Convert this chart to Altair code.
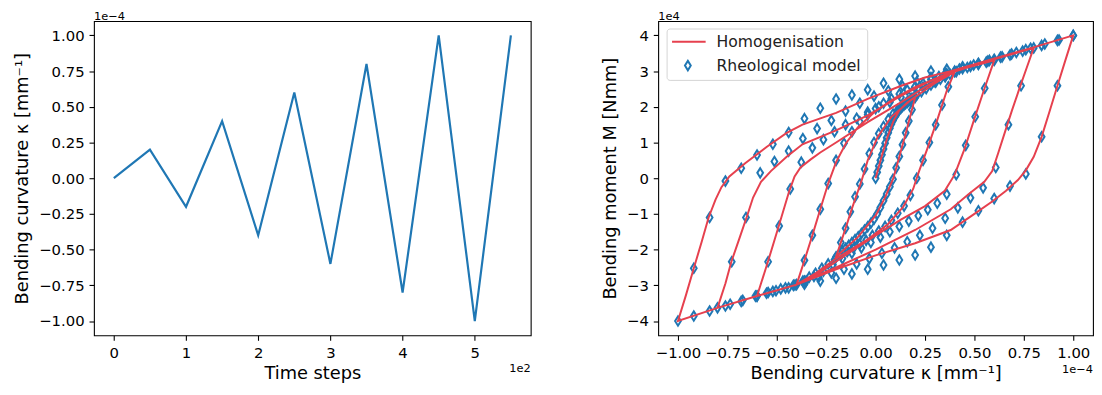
import altair as alt
import pandas as pd

FONT = "DejaVu Sans"
BLUE = "#1f77b4"
RED = "#e6404e"

# ---------------- left panel: loading protocol ----------------
time_steps = [0, 50, 100, 150, 200, 250, 300, 350, 400, 450, 500, 550]
curvature = [0.0, 0.2, -0.2, 0.4, -0.4, 0.6, -0.6, 0.8, -0.8, 1.0, -1.0, 1.0]  # x 1e-4 mm^-1

left_ticks_x = [0, 100, 200, 300, 400, 500]
left_ticks_y = [-1.0, -0.75, -0.5, -0.25, 0.0, 0.25, 0.5, 0.75, 1.0]

# ---------------- right panel: homogenisation (red line) branches ----------------
# curvature in 1e-4 mm^-1, moment in 1e4 Nmm
hom_x_0 = [0.0, 0.03, 0.06, 0.09, 0.12, 0.16, 0.2]
hom_m_0 = [0.0, 0.6, 1.15, 1.6, 1.9, 2.12, 2.26]
hom_x_1 = [0.2, 0.15, 0.09, 0.047, 0.0, -0.09, -0.2]
hom_m_1 = [2.26, 1.2, 0.0, -0.55, -1.05, -1.65, -2.2]
hom_x_2 = [-0.2, -0.15, -0.12, -0.07, -0.04, 0.01, 0.08, 0.18, 0.3, 0.4]
hom_m_2 = [-2.2, -1.37, -0.85, -0.05, 0.5, 1.15, 1.72, 2.2, 2.66, 2.98]
hom_x_3 = [0.4, 0.36, 0.31, 0.26, 0.22, 0.19, 0.14, 0.06, -0.05, -0.2, -0.3, -0.4]
hom_m_3 = [2.98, 2.45, 1.6, 0.8, 0.2, -0.3, -0.8, -1.3, -1.75, -2.25, -2.65, -2.98]
hom_x_4 = [-0.4, -0.36, -0.32, -0.28, -0.24, -0.2, -0.15, -0.09, 0.0, 0.1, 0.2, 0.38, 0.6]
hom_m_4 = [-2.98, -2.3, -1.6, -0.87, -0.15, 0.45, 0.98, 1.42, 1.88, 2.25, 2.55, 2.97, 3.3]
hom_x_5 = [0.6, 0.55, 0.5, 0.45, 0.4, 0.35, 0.25, 0.13, 0.0, -0.15, -0.3, -0.4, -0.5, -0.6]
hom_m_5 = [3.3, 2.5, 1.67, 0.82, 0.1, -0.35, -0.78, -1.15, -1.6, -2.15, -2.7, -2.98, -3.14, -3.3]
hom_x_6 = [-0.6, -0.545, -0.49, -0.437, -0.41, -0.38, -0.33, -0.28, -0.2, -0.04, 0.13, 0.25, 0.38, 0.58, 0.8]
hom_m_6 = [-3.3, -2.34, -1.34, -0.36, 0.05, 0.3, 0.52, 0.72, 1.0, 1.57, 2.13, 2.55, 2.95, 3.3, 3.65]
hom_x_7 = [0.8, 0.765, 0.73, 0.69, 0.66, 0.62, 0.59, 0.55, 0.47, 0.38, 0.2, 0.0, -0.2, -0.4, -0.6, -0.8]
hom_m_7 = [3.65, 3.1, 2.55, 1.9, 1.39, 0.7, 0.2, -0.1, -0.45, -0.87, -1.45, -2.0, -2.5, -2.98, -3.3, -3.63]
hom_x_8 = [-0.8, -0.76, -0.73, -0.69, -0.65, -0.62, -0.58, -0.53, -0.45, -0.37, -0.2, -0.04, 0.13, 0.25, 0.38, 0.58, 0.79, 1.0]
hom_m_8 = [-3.63, -2.95, -2.34, -1.7, -1.05, -0.54, -0.1, 0.2, 0.6, 0.95, 1.34, 1.76, 2.31, 2.65, 2.95, 3.3, 3.65, 4.0]
hom_x_9 = [1.0, 0.96, 0.92, 0.88, 0.84, 0.8, 0.76, 0.72, 0.66, 0.59, 0.5, 0.38, 0.2, 0.0, -0.2, -0.4, -0.6, -0.8, -1.0]
hom_m_9 = [4.0, 3.3, 2.59, 1.87, 1.16, 0.6, 0.22, -0.05, -0.35, -0.65, -1.0, -1.45, -1.82, -2.16, -2.55, -2.98, -3.3, -3.63, -4.0]
hom_x_10 = [-1.0, -0.96, -0.92, -0.88, -0.845, -0.81, -0.78, -0.74, -0.66, -0.55, -0.45, -0.37, -0.2, -0.04, 0.13, 0.25, 0.38, 0.58, 0.79, 1.0]
hom_m_10 = [-4.0, -3.28, -2.52, -1.78, -1.1, -0.6, -0.25, 0.05, 0.42, 0.88, 1.27, 1.5, 1.83, 2.22, 2.59, 2.82, 3.0, 3.32, 3.65, 4.0]

# ---------------- right panel: rheological model (blue diamonds) ----------------
rheo_x_0 = [0.0, 0.008, 0.016, 0.024, 0.032, 0.04, 0.048, 0.056, 0.064, 0.072, 0.08, 0.088, 0.096,
            0.104, 0.112, 0.12, 0.128, 0.136, 0.144, 0.152, 0.16, 0.168, 0.176, 0.184, 0.192, 0.2]
rheo_m_0 = [0.0, 0.17, 0.34, 0.5, 0.66, 0.82, 0.98, 1.13, 1.27, 1.4, 1.52, 1.62, 1.71,
            1.78, 1.85, 1.91, 1.96, 2.01, 2.05, 2.09, 2.13, 2.16, 2.19, 2.22, 2.24, 2.26]
rheo_x_1 = [0.184, 0.168, 0.152, 0.136, 0.12, 0.104, 0.088, 0.072, 0.056, 0.04, 0.024, 0.008, -0.008,
            -0.024, -0.04, -0.056, -0.072, -0.088, -0.104, -0.12, -0.136, -0.152, -0.168, -0.184, -0.2]
rheo_m_1 = [1.92, 1.6, 1.27, 0.94, 0.61, 0.29, -0.03, -0.24, -0.44, -0.63, -0.82, -1.0, -1.15,
            -1.26, -1.36, -1.45, -1.55, -1.64, -1.72, -1.8, -1.88, -1.96, -2.04, -2.12, -2.2]
rheo_x_2 = [-0.176, -0.152, -0.128, -0.104, -0.08, -0.056, -0.032, -0.008, 0.016, 0.04, 0.064, 0.088, 0.112,
            0.136, 0.16, 0.184, 0.208, 0.232, 0.256, 0.28, 0.304, 0.328, 0.352, 0.376, 0.4]
rheo_m_2 = [-1.8, -1.4, -0.94, -0.52, -0.16, 0.26, 0.69, 1.0, 1.25, 1.45, 1.65, 1.8, 1.92,
            2.03, 2.13, 2.24, 2.33, 2.42, 2.51, 2.61, 2.69, 2.77, 2.84, 2.91, 2.98]
rheo_x_3 = [0.368, 0.336, 0.304, 0.272, 0.24, 0.208, 0.176, 0.144, 0.112, 0.08, 0.048, 0.016, -0.016,
            -0.048, -0.08, -0.112, -0.144, -0.176, -0.208, -0.24, -0.272, -0.304, -0.336, -0.368, -0.4]
rheo_m_3 = [2.56, 2.05, 1.5, 1.0, 0.5, 0.0, -0.48, -0.78, -0.98, -1.18, -1.35, -1.48, -1.6,
            -1.74, -1.85, -1.96, -2.06, -2.16, -2.28, -2.4, -2.52, -2.66, -2.77, -2.88, -2.98]
rheo_x_4 = [-0.36, -0.32, -0.28, -0.24, -0.2, -0.16, -0.12, -0.08, -0.04, 0.0, 0.04, 0.08, 0.12,
            0.16, 0.2, 0.24, 0.28, 0.32, 0.36, 0.4, 0.44, 0.48, 0.52, 0.56, 0.6]
rheo_m_4 = [-2.3, -1.6, -0.87, -0.15, 0.5, 0.98, 1.3, 1.58, 1.78, 1.95, 2.1, 2.23, 2.36,
            2.47, 2.57, 2.66, 2.76, 2.85, 2.93, 3.0, 3.07, 3.13, 3.19, 3.25, 3.3]
rheo_x_5 = [0.552, 0.504, 0.456, 0.408, 0.36, 0.312, 0.264, 0.216, 0.168, 0.12, 0.072, 0.024, -0.024,
            -0.072, -0.12, -0.168, -0.216, -0.264, -0.312, -0.36, -0.408, -0.456, -0.504, -0.552, -0.6]
rheo_m_5 = [2.52, 1.72, 0.92, 0.1, -0.45, -0.7, -0.88, -1.05, -1.2, -1.35, -1.5, -1.65, -1.8,
            -1.95, -2.1, -2.25, -2.42, -2.6, -2.75, -2.88, -2.99, -3.07, -3.15, -3.22, -3.3]
rheo_x_6 = [-0.544, -0.488, -0.432, -0.376, -0.32, -0.264, -0.208, -0.152, -0.096, -0.04, 0.016, 0.072, 0.128,
            0.184, 0.24, 0.296, 0.352, 0.408, 0.464, 0.52, 0.576, 0.632, 0.688, 0.744, 0.8]
rheo_m_6 = [-2.34, -1.34, -0.3, 0.45, 0.85, 1.08, 1.3, 1.5, 1.68, 1.85, 2.0, 2.13, 2.27,
            2.41, 2.55, 2.7, 2.85, 2.98, 3.1, 3.2, 3.3, 3.39, 3.48, 3.56, 3.65]
rheo_x_7 = [0.736, 0.672, 0.608, 0.544, 0.48, 0.416, 0.352, 0.288, 0.224, 0.16, 0.096, 0.032, -0.032,
            -0.096, -0.16, -0.224, -0.288, -0.352, -0.416, -0.48, -0.544, -0.608, -0.672, -0.736, -0.8]
rheo_m_7 = [2.59, 1.5, 0.3, -0.27, -0.55, -0.83, -1.12, -1.4, -1.6, -1.78, -1.95, -2.1, -2.25,
            -2.4, -2.55, -2.65, -2.77, -2.88, -3.0, -3.1, -3.2, -3.3, -3.42, -3.53, -3.63]
rheo_x_8 = [-0.728, -0.656, -0.584, -0.512, -0.44, -0.368, -0.296, -0.224, -0.152, -0.08, -0.008, 0.064, 0.136,
            0.208, 0.28, 0.352, 0.424, 0.496, 0.568, 0.64, 0.712, 0.784, 0.856, 0.928, 1.0]
rheo_m_8 = [-2.34, -1.1, 0.15, 0.47, 0.76, 1.11, 1.39, 1.62, 1.88, 2.1, 2.3, 2.45, 2.58,
            2.7, 2.82, 2.93, 3.06, 3.17, 3.28, 3.4, 3.52, 3.64, 3.76, 3.87, 4.0]
rheo_x_9 = [0.92, 0.84, 0.76, 0.68, 0.6, 0.52, 0.44, 0.36, 0.28, 0.2, 0.12, 0.04, -0.04,
            -0.12, -0.2, -0.28, -0.36, -0.44, -0.52, -0.6, -0.68, -0.76, -0.84, -0.92, -1.0]
rheo_m_9 = [2.59, 1.16, 0.12, -0.22, -0.57, -0.91, -1.23, -1.6, -1.93, -2.15, -2.29, -2.43, -2.55,
            -2.68, -2.8, -2.88, -2.97, -3.07, -3.17, -3.3, -3.45, -3.58, -3.72, -3.86, -4.0]
rheo_x_10 = [-0.92, -0.84, -0.76, -0.68, -0.6, -0.52, -0.44, -0.36, -0.28, -0.2, -0.12, -0.04, 0.04,
             0.12, 0.2, 0.28, 0.36, 0.44, 0.52, 0.6, 0.68, 0.76, 0.84, 0.92, 1.0]
rheo_m_10 = [-2.52, -1.1, -0.08, 0.28, 0.65, 0.95, 1.28, 1.67, 1.96, 2.22, 2.33, 2.48, 2.66,
             2.77, 2.86, 3.0, 3.05, 3.12, 3.22, 3.33, 3.45, 3.6, 3.72, 3.86, 4.0]

right_ticks_x = [-1.0, -0.75, -0.5, -0.25, 0.0, 0.25, 0.5, 0.75, 1.0]
right_ticks_y = [-4, -3, -2, -1, 0, 1, 2, 3, 4]

# ---------------- build tables ----------------
hom_xs = [hom_x_0, hom_x_1, hom_x_2, hom_x_3, hom_x_4, hom_x_5, hom_x_6, hom_x_7, hom_x_8, hom_x_9, hom_x_10]
hom_ms = [hom_m_0, hom_m_1, hom_m_2, hom_m_3, hom_m_4, hom_m_5, hom_m_6, hom_m_7, hom_m_8, hom_m_9, hom_m_10]
rheo_xs = [rheo_x_0, rheo_x_1, rheo_x_2, rheo_x_3, rheo_x_4, rheo_x_5, rheo_x_6, rheo_x_7, rheo_x_8, rheo_x_9, rheo_x_10]
rheo_ms = [rheo_m_0, rheo_m_1, rheo_m_2, rheo_m_3, rheo_m_4, rheo_m_5, rheo_m_6, rheo_m_7, rheo_m_8, rheo_m_9, rheo_m_10]

hom_rows = []
for xs, ms in zip(hom_xs, hom_ms):
    for x, m in zip(xs, ms):
        hom_rows.append({"i": len(hom_rows), "k": x, "M": m})
hom_df = pd.DataFrame(hom_rows)

rheo_rows = []
for xs, ms in zip(rheo_xs, rheo_ms):
    for x, m in zip(xs, ms):
        rheo_rows.append({"k": x, "M": m})
rheo_df = pd.DataFrame(rheo_rows)

left_df = pd.DataFrame({"t": time_steps, "k": curvature})
one = pd.DataFrame({"d": [0]})

LW, LH = 442, 318
RW, RH = 440, 318

# ---------------- left chart ----------------
left_line = alt.Chart(left_df).mark_line(color=BLUE, strokeWidth=2.2).encode(
    x=alt.X("t:Q",
            scale=alt.Scale(domain=[-27.5, 577.5], nice=False, zero=False),
            axis=alt.Axis(values=left_ticks_x, labelExpr="format(datum.value / 100, 'd')",
                          title="Time steps", titlePadding=5)),
    y=alt.Y("k:Q",
            scale=alt.Scale(domain=[-1.1, 1.1], nice=False, zero=False),
            axis=alt.Axis(values=left_ticks_y, format=".2f",
                          title="Bending curvature κ [mm⁻¹]", titlePadding=7)),
)
left_off_top = alt.Chart(one).mark_text(align="left", baseline="alphabetic", fontSize=11.5, font=FONT,
                                        color="black").encode(
    x=alt.value(0), y=alt.value(-1), text=alt.value("1e−4"))
left_off_bot = alt.Chart(one).mark_text(align="right", baseline="middle", fontSize=11.5, font=FONT,
                                        color="black").encode(
    x=alt.value(LW), y=alt.value(352), text=alt.value("1e2"))
left = alt.layer(left_line, left_off_top, left_off_bot).properties(width=LW, height=LH)

# ---------------- right chart ----------------
DIAMOND = "M0,-1L0.62,0L0,1L-0.62,0Z"
xscale_r = alt.Scale(domain=[-1.1, 1.1], nice=False, zero=False)
yscale_r = alt.Scale(domain=[-4.4, 4.4], nice=False, zero=False)
xaxis_r = alt.Axis(values=right_ticks_x, format=".2f",
                   title="Bending curvature κ [mm⁻¹]", titlePadding=5)
yaxis_r = alt.Axis(values=right_ticks_y, format="d",
                   title="Bending moment M [Nmm]", titlePadding=7)

rheo_pts = alt.Chart(rheo_df).mark_point(shape=DIAMOND, filled=False, stroke=BLUE, strokeWidth=2,
                                         size=90, opacity=1).encode(
    x=alt.X("k:Q", scale=xscale_r, axis=xaxis_r),
    y=alt.Y("M:Q", scale=yscale_r, axis=yaxis_r),
)
hom_line = alt.Chart(hom_df).mark_line(color=RED, strokeWidth=2).encode(
    x=alt.X("k:Q", scale=xscale_r, axis=xaxis_r),
    y=alt.Y("M:Q", scale=yscale_r, axis=yaxis_r),
    order="i:Q",
)
leg_box = alt.Chart(one).mark_rect(fill="white", stroke="#d4d4d4", strokeWidth=1, cornerRadius=3).encode(
    x=alt.value(9), x2=alt.value(212), y=alt.value(8), y2=alt.value(60))
leg_line = alt.Chart(one).mark_rule(color=RED, strokeWidth=2).encode(
    x=alt.value(14), x2=alt.value(48), y=alt.value(21))
leg_pt = alt.Chart(one).mark_point(shape=DIAMOND, filled=False, stroke=BLUE, strokeWidth=2,
                                   size=90, opacity=1).encode(
    x=alt.value(30), y=alt.value(45))
leg_t1 = alt.Chart(one).mark_text(align="left", baseline="middle", fontSize=15.8, font=FONT,
                                  color="#222").encode(
    x=alt.value(59), y=alt.value(21), text=alt.value("Homogenisation"))
leg_t2 = alt.Chart(one).mark_text(align="left", baseline="middle", fontSize=15.8, font=FONT,
                                  color="#222").encode(
    x=alt.value(59), y=alt.value(45), text=alt.value("Rheological model"))
right_off_top = alt.Chart(one).mark_text(align="left", baseline="alphabetic", fontSize=11.5, font=FONT,
                                         color="black").encode(
    x=alt.value(0), y=alt.value(-1), text=alt.value("1e4"))
right_off_bot = alt.Chart(one).mark_text(align="right", baseline="middle", fontSize=11.5, font=FONT,
                                         color="black").encode(
    x=alt.value(RW), y=alt.value(353), text=alt.value("1e−4"))

right = alt.layer(rheo_pts, hom_line, leg_box, leg_line, leg_pt, leg_t1, leg_t2,
                  right_off_top, right_off_bot).properties(width=RW, height=RH)

chart = alt.hconcat(left, right, spacing=70).properties(
    padding={"left": 5, "top": 0, "right": 0, "bottom": 0}
).configure(font=FONT).configure_view(
    stroke="black", strokeWidth=1.1
).configure_axis(
    grid=False, domain=False,
    labelFont=FONT, labelFontSize=15, labelColor="black", labelPadding=5,
    titleFont=FONT, titleFontSize=18, titleFontWeight="normal", titleColor="black",
    tickColor="black", tickSize=5, tickWidth=1.1,
)

chart.save("out.html", embed_options={"renderer": "svg", "actions": False})
